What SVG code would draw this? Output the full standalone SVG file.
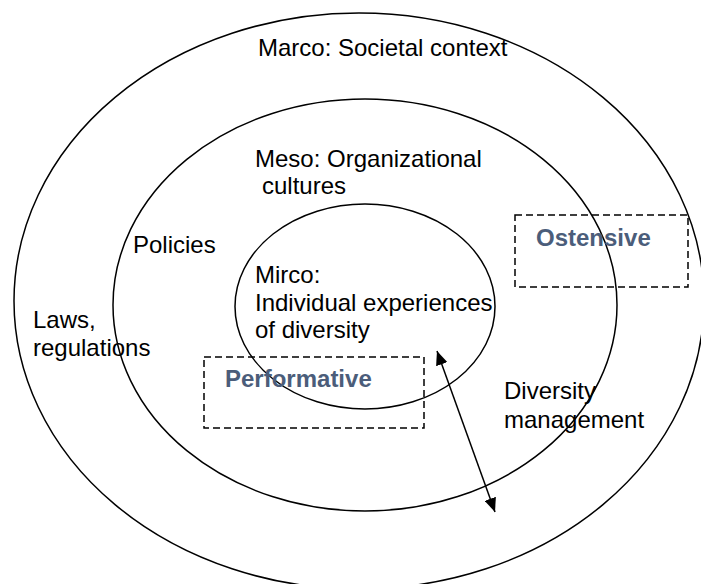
<svg xmlns="http://www.w3.org/2000/svg" width="701" height="584" viewBox="0 0 701 584">
<style>
  .ring { fill: none; stroke: #000; stroke-width: 1.5; }
  .box { fill: none; stroke: #000; stroke-width: 1.5; stroke-dasharray: 7 4; }
  .lbl { font-family: "Liberation Sans", Arial, sans-serif; font-size: 24px; fill: #000; }
  .tag { font-family: "Liberation Sans", Arial, sans-serif; font-size: 24px; font-weight: bold; fill: #4B5D7A; }
  .conn { fill: none; stroke: #000; stroke-width: 1.5; }
</style>
<defs>
  <marker id="arrowEnd" viewBox="0 0 14 12" refX="14" refY="6" markerWidth="14" markerHeight="12" markerUnits="userSpaceOnUse" orient="auto">
    <path d="M0,0 L14,6 L0,12 z" fill="#000"/>
  </marker>
  <marker id="arrowStart" viewBox="0 0 14 12" refX="0" refY="6" markerWidth="14" markerHeight="12" markerUnits="userSpaceOnUse" orient="auto">
    <path d="M14,0 L0,6 L14,12 z" fill="#000"/>
  </marker>
</defs>
<rect x="0" y="0" width="701" height="584" fill="#fff"/>

<g id="macro">
  <ellipse class="ring" cx="359" cy="301" rx="345" ry="288"/>
  <text class="lbl" x="258" y="56">Marco: Societal context</text>
</g>

<g id="meso">
  <ellipse class="ring" cx="365" cy="305" rx="252" ry="206"/>
  <text class="lbl" x="255" y="167">Meso: Organizational</text>
  <text class="lbl" x="262" y="194">cultures</text>
</g>

<g id="micro">
  <ellipse class="ring" cx="365" cy="306.5" rx="130" ry="102.5"/>
  <text class="lbl" x="255" y="283">Mirco:</text>
  <text class="lbl" x="255" y="311">Individual experiences</text>
  <text class="lbl" x="255" y="338">of diversity</text>
</g>

<g id="policies">
  <text class="lbl" x="133" y="253">Policies</text>
</g>

<g id="laws">
  <text class="lbl" x="33" y="328">Laws,</text>
  <text class="lbl" x="33" y="356">regulations</text>
</g>

<g id="diversity-management">
  <text class="lbl" x="504" y="399">Diversity</text>
  <text class="lbl" x="504" y="428">management</text>
</g>

<g id="ostensive">
  <rect class="box" x="515" y="215" width="173" height="72"/>
  <text class="tag" x="536" y="246">Ostensive</text>
</g>

<g id="performative">
  <rect class="box" x="204" y="357" width="220" height="71"/>
  <text class="tag" x="225" y="387">Performative</text>
</g>

<g id="connectors">
  <line class="conn" x1="437" y1="351" x2="495" y2="512" marker-start="url(#arrowStart)" marker-end="url(#arrowEnd)"/>
</g>
</svg>
